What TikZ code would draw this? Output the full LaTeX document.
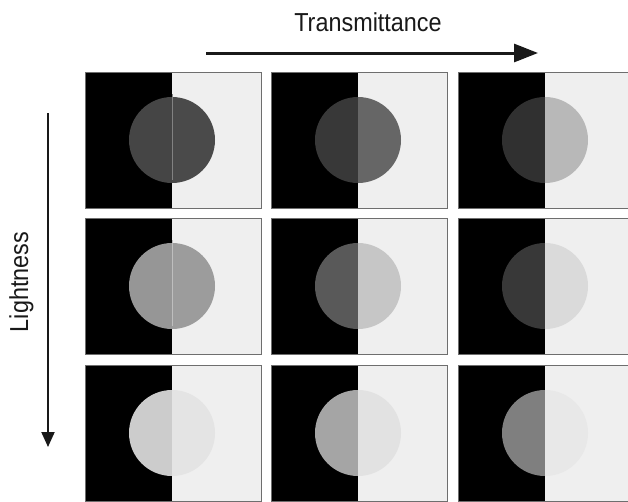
\documentclass[tikz,border=0pt]{standalone}
\usepackage{fontspec}
\setmainfont{Liberation Sans}
\usetikzlibrary{arrows.meta}
\definecolor{bglight}{RGB}{239,239,239}
\definecolor{frame}{RGB}{110,110,110}
\begin{document}
\begin{tikzpicture}[x=1pt,y=-1pt,
  lbl/.style={font=\fontsize{26}{30}\selectfont, inner sep=0pt, text=black!90},
  haxis/.style={-{Triangle[length=24pt,width=18pt]}, line width=3pt, black!90},
  vaxis/.style={-{Triangle[length=15pt,width=13pt]}, line width=2pt, black!90},
  panelframe/.style={draw=frame, line width=0.8pt},
  seam/.style={line width=0.8pt}]
\useasboundingbox (0,0) rectangle (628,501);
\clip (0,0) rectangle (628,501);
\fill[white] (0,0) rectangle (628,501);
\foreach \px/\py/\lv/\rv in {85/72/69/74, 271/72/56/102, 458/72/48/184,
                              85/218/150/156, 271/218/89/198, 458/218/56/218,
                              85/365/204/228, 271/365/165/226, 458/365/127/232} {
  \fill[black] (\px,\py) rectangle ++(87,136);
  \fill[bglight] (\px+87,\py) rectangle ++(89,136);
  \begin{scope}
    \clip (\px,\py) rectangle ++(87,136);
    \fill[color={rgb,255:red,\lv;green,\lv;blue,\lv}] (\px+87,\py+68) circle (43);
  \end{scope}
  \begin{scope}
    \clip (\px+87,\py) rectangle ++(89,136);
    \fill[color={rgb,255:red,\rv;green,\rv;blue,\rv}] (\px+87,\py+68) circle (43);
  \end{scope}
  \draw[panelframe] (\px,\py) rectangle ++(176,136);
}
% seams inside the circles of the first column
\draw[seam, color={rgb,255:red,130;green,130;blue,130}] (172,94) -- (172,180);
\draw[seam, color={rgb,255:red,190;green,190;blue,190}] (172,240) -- (172,326);
% labels and arrows
\node[lbl, anchor=base] (ttl) at (368,31) {\scalebox{0.9}[1]{Transmittance}};
\coordinate (tA) at (206,53);
\coordinate (tB) at (538,53);
\draw[haxis] (tA) -- (tB);
\node[lbl, rotate=90, anchor=base] (ltl) at (28,282) {\scalebox{0.9}[1]{Lightness}};
\coordinate (lA) at (48,113);
\coordinate (lB) at (48,447);
\draw[vaxis] (lA) -- (lB);
\end{tikzpicture}
\end{document}
